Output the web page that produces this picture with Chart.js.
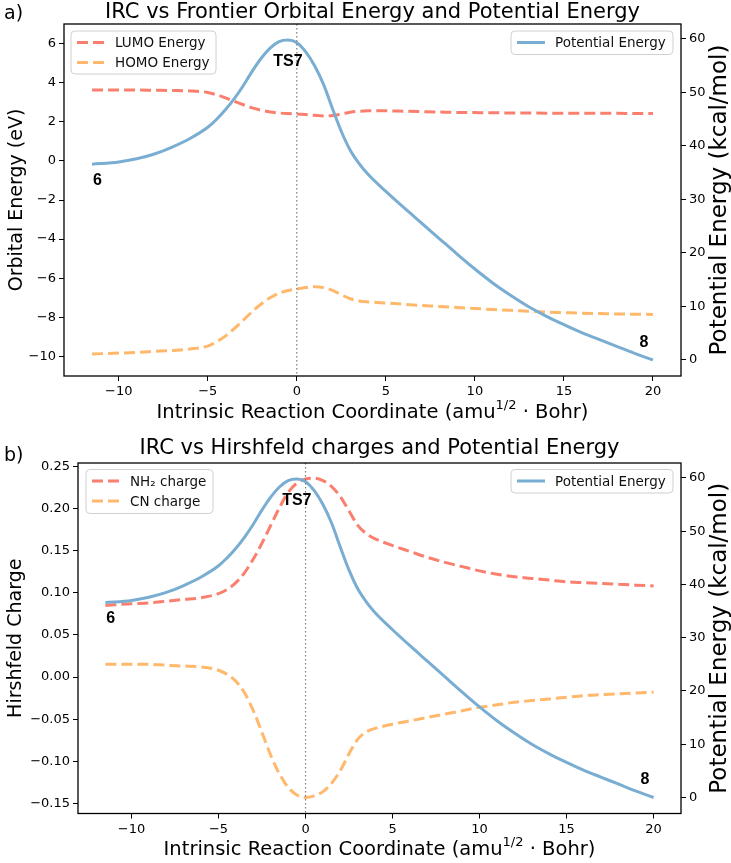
<!DOCTYPE html>
<html>
<head>
<meta charset="utf-8">
<script src="https://cdn.jsdelivr.net/npm/chart.js@4.4.1/dist/chart.umd.min.js"></script>
<style>
  html, body { margin: 0; padding: 0; background: #fff; }
  canvas { display: block; }
</style>
</head>
<body>
<canvas id="chartA" width="731" height="431"></canvas>
<canvas id="chartB" width="731" height="432"></canvas>
<script>
// IRC coordinate (amu^1/2 Bohr)
const irc = [-11.5, -10, -9, -8, -7, -6, -5, -4.5, -4, -3.5, -3, -2.5, -2, -1.5, -1, -0.5, 0, 0.5, 1, 1.5, 2, 2.5, 3, 3.5, 4, 5, 6, 7, 8, 9, 10, 11, 12, 13, 14, 15, 16, 17, 18, 19, 20];

// potential energy (kcal/mol), same path in both panels
const potentialEnergy = [36.6, 37.0, 37.6, 38.5, 39.8, 41.4, 43.5, 45.0, 46.8, 48.9, 51.3, 54.0, 56.4, 58.3, 59.5, 59.8, 59.3, 57.6, 55.0, 51.5, 47.0, 42.7, 39.2, 36.7, 34.7, 31.5, 28.5, 25.6, 22.7, 19.8, 17.0, 14.4, 12.1, 10.0, 8.2, 6.6, 5.1, 3.8, 2.5, 1.2, 0.0];

// frontier orbitals (eV)
const lumoEnergy = [3.62, 3.62, 3.62, 3.61, 3.60, 3.58, 3.50, 3.38, 3.22, 3.04, 2.87, 2.71, 2.59, 2.50, 2.45, 2.42, 2.40, 2.37, 2.33, 2.30, 2.32, 2.40, 2.49, 2.54, 2.56, 2.56, 2.54, 2.52, 2.50, 2.48, 2.47, 2.46, 2.45, 2.45, 2.44, 2.44, 2.43, 2.43, 2.43, 2.42, 2.42];
const homoEnergy = [-9.87, -9.83, -9.79, -9.74, -9.69, -9.62, -9.47, -9.25, -8.95, -8.57, -8.14, -7.70, -7.32, -7.00, -6.77, -6.63, -6.55, -6.48, -6.44, -6.48, -6.62, -6.85, -7.05, -7.16, -7.21, -7.27, -7.33, -7.39, -7.44, -7.50, -7.55, -7.60, -7.64, -7.69, -7.73, -7.76, -7.79, -7.81, -7.83, -7.84, -7.85];

// Hirshfeld charges
const nh2Charge = [0.085, 0.087, 0.088, 0.090, 0.092, 0.094, 0.099, 0.104, 0.112, 0.124, 0.140, 0.159, 0.180, 0.201, 0.219, 0.230, 0.235, 0.236, 0.233, 0.226, 0.214, 0.197, 0.180, 0.170, 0.164, 0.156, 0.149, 0.142, 0.136, 0.131, 0.126, 0.122, 0.119, 0.117, 0.115, 0.113, 0.112, 0.111, 0.110, 0.109, 0.108];
const cnCharge = [0.015, 0.015, 0.015, 0.014, 0.013, 0.012, 0.008, 0.003, -0.005, -0.019, -0.040, -0.066, -0.093, -0.115, -0.131, -0.140, -0.143, -0.141, -0.136, -0.126, -0.111, -0.091, -0.074, -0.065, -0.061, -0.056, -0.052, -0.048, -0.044, -0.040, -0.036, -0.033, -0.030, -0.028, -0.026, -0.024, -0.022, -0.021, -0.020, -0.019, -0.018];

// tick labels
const ircTicks = [-10, -5, 0, 5, 10, 15, 20];
const orbitalTicks = [-10, -8, -6, -4, -2, 0, 2, 4, 6];
const energyTicks = [0, 10, 20, 30, 40, 50, 60];
const chargeTicks = [-0.15, -0.10, -0.05, 0.00, 0.05, 0.10, 0.15, 0.20, 0.25];

const tsX = 0;
const pointLabels = [
  { text: '6', x: -11.2, y: 33.5 },
  { text: 'TS7', x: -0.5, y: 55.8 },
  { text: '8', x: 19.5, y: 3.3 }
];

const BLUE = '#79ADD2', RED = '#FA7F6F', ORANGE = '#FFB86C';
const FONT = '"DejaVu Sans", sans-serif';
const minus = s => String(s).replace('-', '\u2212');

const pts = arr => irc.map((x, i) => ({ x: x, y: arr[i] }));

function line(label, arr, color, axis, dashed) {
  return {
    label: label, data: pts(arr), yAxisID: axis,
    borderColor: color, backgroundColor: color, borderWidth: 3,
    borderDash: dashed ? [11, 5] : [], pointRadius: 0, fill: false,
    cubicInterpolationMode: 'monotone'
  };
}

function axis(pos, min, max, ticks, size, fmt) {
  return {
    type: 'linear', position: pos, min: min, max: max,
    afterBuildTicks: s => { s.ticks = ticks.map(v => ({ value: v })); },
    afterFit: s => { if (pos === 'bottom') s.height = size; else s.width = size; },
    ticks: { color: '#000', font: { family: FONT, size: 13 }, padding: 3, autoSkip: false,
             maxRotation: 0, callback: fmt || (v => minus(v)) },
    grid: { display: true, drawOnChartArea: false, drawTicks: true, tickLength: 5,
            tickColor: '#000', tickWidth: 1 },
    border: { display: false }
  };
}

function drawLegend(chart, lg) {
  const ctx = chart.ctx;
  ctx.save();
  ctx.beginPath();
  ctx.roundRect(lg.x, lg.y, lg.w, lg.h, 4);
  ctx.fillStyle = 'rgba(255,255,255,0.8)';
  ctx.fill();
  ctx.strokeStyle = '#d0d0d0';
  ctx.lineWidth = 1;
  ctx.stroke();
  lg.items.forEach((di, i) => {
    const ds = chart.data.datasets[di];
    const yy = lg.y + 11.5 + i * 20;
    ctx.strokeStyle = ds.borderColor;
    ctx.lineWidth = 3;
    ctx.setLineDash(ds.borderDash);
    ctx.beginPath();
    ctx.moveTo(lg.x + 6, yy);
    ctx.lineTo(lg.x + 34, yy);
    ctx.stroke();
    ctx.setLineDash([]);
    ctx.fillStyle = '#111';
    ctx.font = '13.5px ' + FONT;
    ctx.textAlign = 'left';
    ctx.textBaseline = 'middle';
    ctx.fillText(ds.label, lg.x + 44, yy + 1);
  });
  ctx.restore();
}

const decor = {
  id: 'decor',
  afterDatasetsDraw(chart, args, o) {
    const ctx = chart.ctx, a = chart.chartArea;
    const xs = chart.scales.x, pe = chart.scales.y1;
    ctx.save();
    // dotted line at the transition state
    const px = xs.getPixelForValue(tsX);
    ctx.strokeStyle = '#7a7a7a';
    ctx.lineWidth = 1.2;
    ctx.setLineDash([1.5, 2.5]);
    ctx.beginPath();
    ctx.moveTo(px, a.top);
    ctx.lineTo(px, a.bottom);
    ctx.stroke();
    ctx.setLineDash([]);
    ctx.fillStyle = '#000';
    ctx.font = 'bold 16px "Liberation Sans", Arial, sans-serif';
    ctx.textAlign = 'center';
    ctx.textBaseline = 'middle';
    pointLabels.forEach(l => ctx.fillText(l.text, xs.getPixelForValue(l.x), pe.getPixelForValue(l.y)));
    o.legends.forEach(lg => drawLegend(chart, lg));
    ctx.strokeStyle = '#000';
    ctx.lineWidth = 1.3;
    ctx.strokeRect(a.left, a.top, a.right - a.left, a.bottom - a.top);
    ctx.restore();
  },
  afterDraw(chart, args, o) {
    const ctx = chart.ctx, a = chart.chartArea;
    const cx = (a.left + a.right) / 2, cy = (a.top + a.bottom) / 2;
    ctx.save();
    ctx.fillStyle = '#000';
    ctx.textBaseline = 'middle';
    // title and panel letter
    ctx.font = '21px ' + FONT;
    ctx.textAlign = 'center';
    ctx.fillText(o.title, cx, o.titleY);
    ctx.font = '19px ' + FONT;
    ctx.textAlign = 'left';
    ctx.fillText(o.panel, 4, o.panelY);
    // x axis title with superscript
    const big = '19.5px ' + FONT, small = '13px ' + FONT;
    const p1 = 'Intrinsic Reaction Coordinate (amu', p2 = '1/2', p3 = ' \u00b7 Bohr)';
    ctx.font = big; const w1 = ctx.measureText(p1).width, w3 = ctx.measureText(p3).width;
    ctx.font = small; const w2 = ctx.measureText(p2).width;
    const x0 = cx - (w1 + w2 + w3) / 2;
    const xy = a.bottom + o.xTitleOff;
    ctx.font = big; ctx.fillText(p1, x0, xy);
    ctx.font = small; ctx.fillText(p2, x0 + w1, xy - 7);
    ctx.font = big; ctx.fillText(p3, x0 + w1 + w2, xy);
    // y titles
    ctx.textAlign = 'center';
    ctx.font = '19px ' + FONT;
    ctx.translate(o.leftTitleX, cy);
    ctx.rotate(-Math.PI / 2);
    ctx.fillText(o.leftTitle, 0, 0);
    ctx.setTransform(1, 0, 0, 1, 0, 0);
    ctx.font = '23px ' + FONT;
    ctx.translate(o.rightTitleX, cy);
    ctx.rotate(-Math.PI / 2);
    ctx.fillText('Potential Energy (kcal/mol)', 0, 0);
    ctx.restore();
  }
};

Chart.register(decor);

new Chart(document.getElementById('chartA'), {
  type: 'line',
  data: {
    datasets: [
      line('Potential Energy', potentialEnergy, BLUE, 'y1', false),
      line('LUMO Energy', lumoEnergy, RED, 'y', true),
      line('HOMO Energy', homoEnergy, ORANGE, 'y', true)
    ]
  },
  options: {
    responsive: false, animation: false, devicePixelRatio: 1,
    layout: { padding: { top: 24, left: 0, right: 0, bottom: 0 } },
    plugins: {
      legend: { display: false }, tooltip: { enabled: false },
      decor: {
        title: 'IRC vs Frontier Orbital Energy and Potential Energy', titleY: 13,
        panel: 'a)', panelY: 14, xTitleOff: 37, leftTitle: 'Orbital Energy (eV)',
        leftTitleX: 17, rightTitleX: 720,
        legends: [
          { x: 71, y: 31, w: 145, h: 43, items: [1, 2] },
          { x: 511, y: 31, w: 162, h: 23.5, items: [0] }
        ]
      }
    },
    scales: {
      x: axis('bottom', -13.075, 21.575, ircTicks, 55),
      y: axis('left', -11, 7, orbitalTicks, 64),
      y1: axis('right', -3, 62.8, energyTicks, 50)
    }
  }
});

new Chart(document.getElementById('chartB'), {
  type: 'line',
  data: {
    datasets: [
      line('Potential Energy', potentialEnergy, BLUE, 'y1', false),
      line('NH\u2082 charge', nh2Charge, RED, 'y', true),
      line('CN charge', cnCharge, ORANGE, 'y', true)
    ]
  },
  options: {
    responsive: false, animation: false, devicePixelRatio: 1,
    layout: { padding: { top: 32, left: 0, right: 0, bottom: 0 } },
    plugins: {
      legend: { display: false }, tooltip: { enabled: false },
      decor: {
        title: 'IRC vs Hirshfeld charges and Potential Energy', titleY: 18,
        panel: 'b)', panelY: 25, xTitleOff: 36, leftTitle: 'Hirshfeld Charge',
        leftTitleX: 16, rightTitleX: 720,
        legends: [
          { x: 86, y: 38.5, w: 127, h: 44, items: [1, 2] },
          { x: 511, y: 38.5, w: 162, h: 23.5, items: [0] }
        ]
      }
    },
    scales: {
      x: axis('bottom', -13.075, 21.575, ircTicks, 49.5),
      y: axis('left', -0.162, 0.254, chargeTicks, 78, v => minus(v.toFixed(2))),
      y1: axis('right', -3, 62.8, energyTicks, 50)
    }
  }
});
</script>
</body>
</html>
